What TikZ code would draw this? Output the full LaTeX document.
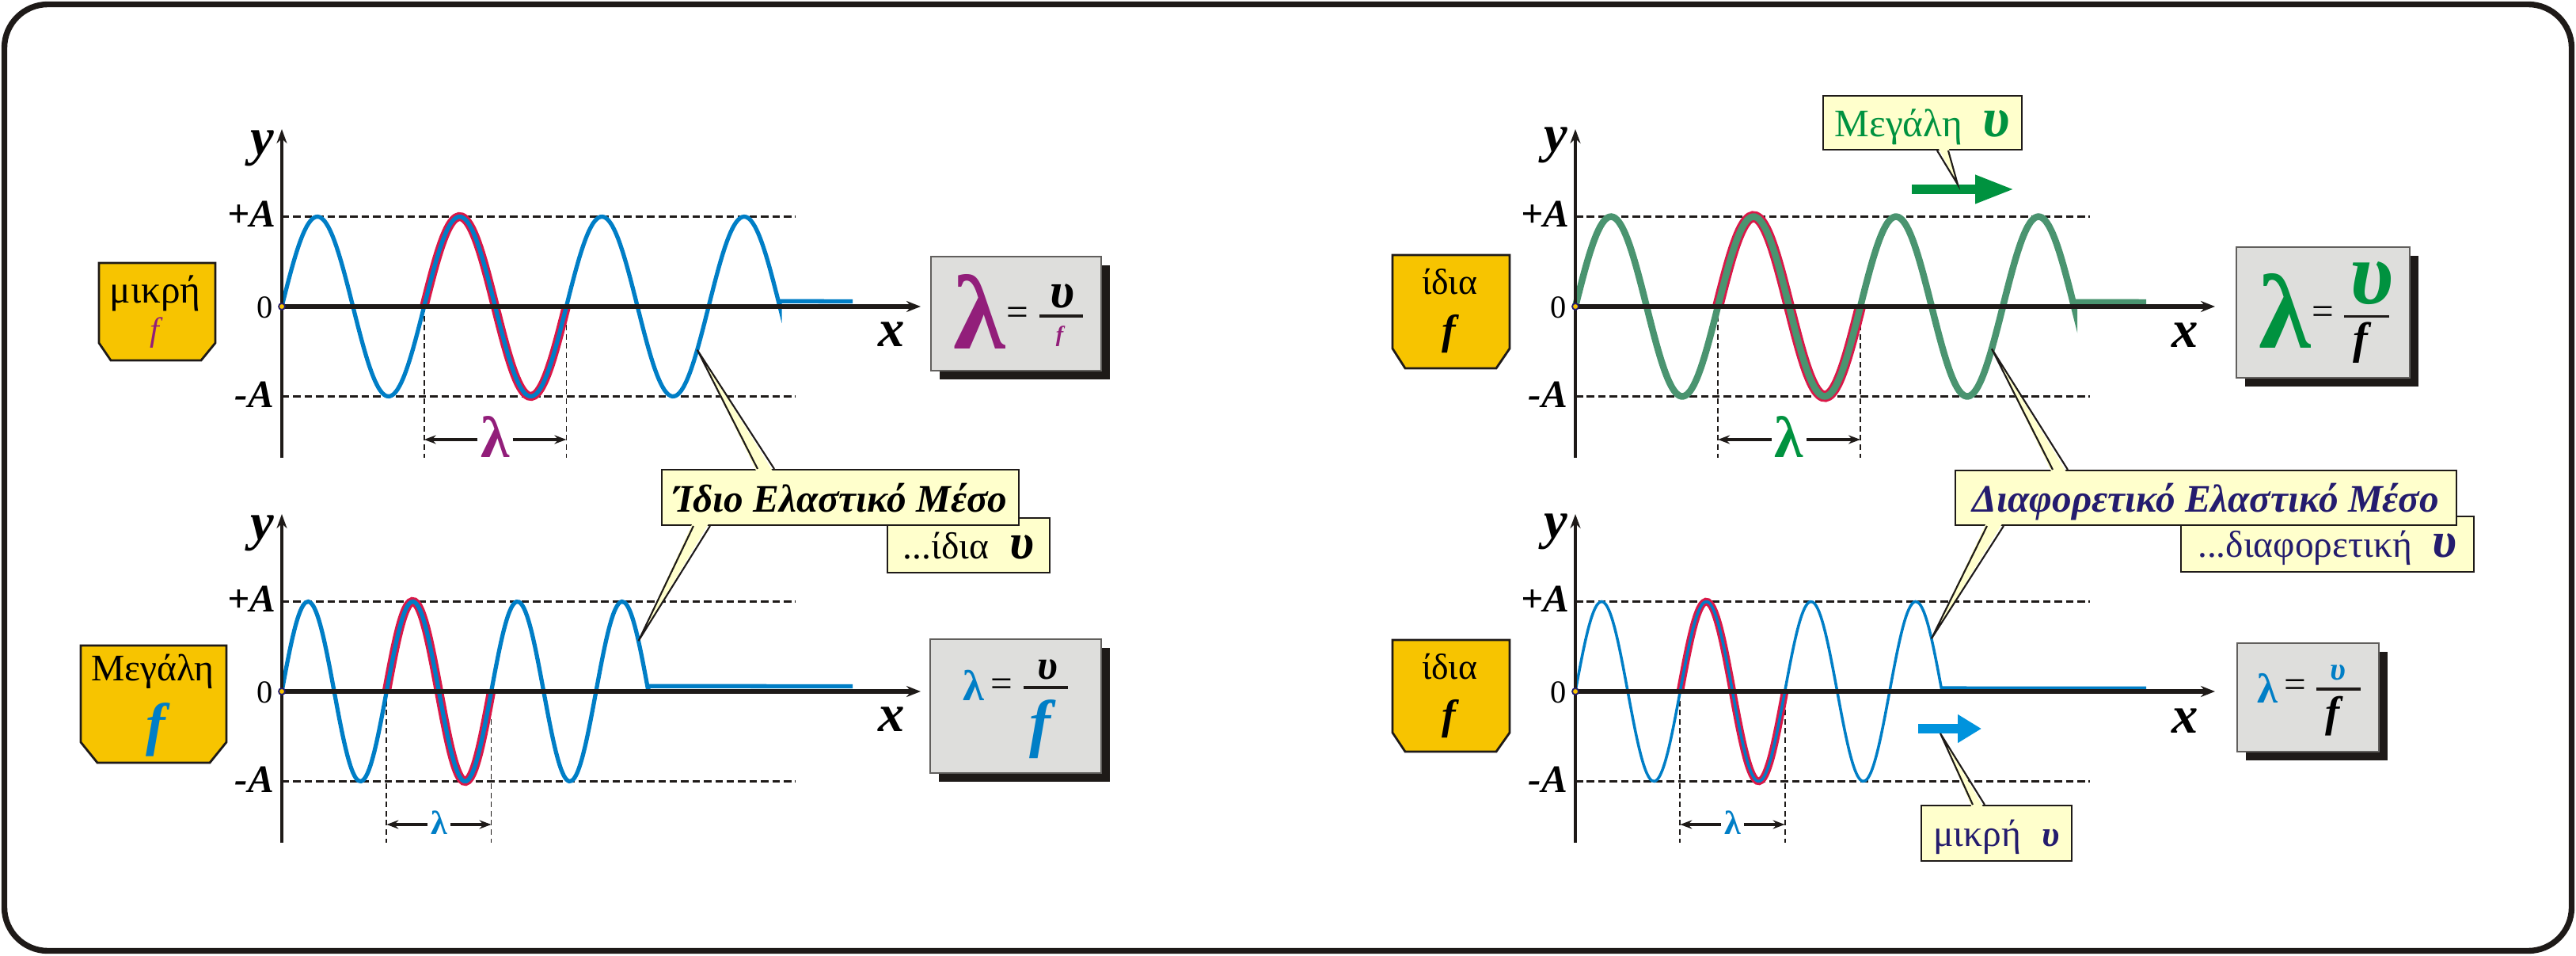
\documentclass[tikz,border=0pt]{standalone}
\usepackage{fontspec}
\setmainfont{Liberation Serif}
\usetikzlibrary{arrows.meta,shadows}

\definecolor{ink}{RGB}{30,26,24}
\definecolor{wblue}{RGB}{0,126,198}
\definecolor{wred}{RGB}{218,24,72}
\definecolor{wgreen}{RGB}{74,148,112}
\definecolor{lpurple}{RGB}{146,30,122}
\definecolor{vgreen}{RGB}{0,146,63}
\definecolor{fyellow}{RGB}{247,196,0}
\definecolor{cyellow}{RGB}{255,255,204}
\definecolor{fgray}{RGB}{222,222,220}
\definecolor{navy}{RGB}{36,28,110}
\definecolor{vblue}{RGB}{0,147,221}

\tikzset{
  frame/.style={ink, line width=2.1pt, rounded corners=0.55cm},
  axisx/.style={ink, line width=1.5pt, -{Stealth[length=0.18cm,width=0.14cm]}},
  axisy/.style={ink, line width=1.2pt, -{Stealth[length=0.18cm,width=0.13cm]}},
  ampline/.style={ink, line width=0.9pt, dash pattern=on 2.7pt off 1.4pt},
  guideline/.style={ink, line width=0.5pt, dash pattern=on 2pt off 1.3pt},
  dimarrow/.style={ink, line width=0.9pt, -{Stealth[length=0.15cm,width=0.11cm]}},
  bluewave/.style={wblue, line width=1.5pt},
  greenwave/.style={wgreen, line width=2.4pt},
  thinwave/.style={wblue, line width=1pt},
  redmark/.style={wred, line width=3.2pt},
  redwide/.style={wred, line width=4pt},
  redthin/.style={wred, line width=2.7pt},
  origindot/.style={circle, fill=fyellow, draw=navy, line width=0.5pt, inner sep=0pt, minimum size=0.08cm},
  tag/.style={inner sep=0pt, outer sep=0pt},
  axtext/.style={tag, font=\fontsize{19}{19}\selectfont\bfseries\itshape},
  amptext/.style={tag, anchor=east, font=\fontsize{14}{14}\selectfont\bfseries\itshape},
  zerotext/.style={tag, anchor=east, font=\fontsize{11.5}{11.5}\selectfont},
  freqbox/.style={fill=fyellow, draw=ink, line width=0.8pt, line join=miter},
  eqbox/.style={fill=fgray, draw=ink!70, line width=0.6pt,
    drop shadow={shadow xshift=0.11cm, shadow yshift=-0.11cm, fill=ink, opacity=1}},
  fracline/.style={ink, line width=1pt},
  calloutbox/.style={fill=cyellow, draw=ink, line width=0.6pt, inner sep=0pt, text depth=0pt},
  pointer/.style={ink, line width=0.6pt},
  flowarrow/.style={line width=0.12cm},
}

\begin{document}
\begin{tikzpicture}
\useasboundingbox (0,0) rectangle (32.54,12.06);
\draw[frame] (0.055,0.055) rectangle (32.485,12.005);

% top left: small f
\begin{scope}[shift={(3.56,8.19)}]
\draw[ampline] (0,1.135) -- (6.49,1.135);
\draw[ampline] (0,-1.135) -- (6.49,-1.135);
\draw[guideline] (1.797,0) -- (1.797,-1.91);
\draw[guideline] (3.594,0) -- (3.594,-1.91);
\draw[redmark] plot[domain=1:2,samples=50,smooth] ({1.797*\x},{1.135*sin(360*\x)});
\draw[bluewave] plot[domain=0:3.5,samples=140,smooth] ({1.797*\x},{1.135*sin(360*\x)}) -- ++(0,0.065) -- (7.21,0.065);
\draw[axisy] (0,-1.91) -- (0,2.24);
\draw[axisx] (0,0) -- (8.07,0);
\node[origindot] (o1) at (0,0) {};
\node[axtext, anchor=east] (y1) at (-0.10,2.0) {y};
\node[amptext] (pa1) at (-0.08,1.17) {+A};
\node[zerotext] (z1) at (-0.11,-0.01) {0};
\node[amptext] (ma1) at (-0.10,-1.11) {-A};
\node[axtext] (x1) at (7.70,-0.35) {x};
\coordinate (l1a) at (1.797,-1.68);
\coordinate (l1b) at (3.594,-1.68);
\node[tag, lpurple, font=\fontsize{21}{21}\selectfont\bfseries] (lam1) at (2.696,-1.65) {λ};
\draw[dimarrow] ([xshift=-0.04cm]lam1.west |- l1a) -- (l1a);
\draw[dimarrow] ([xshift=0.04cm]lam1.east |- l1b) -- (l1b);
\coordinate (tip1) at ({2.92*1.797},{1.135*sin(360*2.92)});
\end{scope}

% bottom left: large f
\begin{scope}[shift={(3.56,3.33)}]
\draw[ampline] (0,1.135) -- (6.49,1.135);
\draw[ampline] (0,-1.135) -- (6.49,-1.135);
\draw[guideline] (1.323,0) -- (1.323,-1.91);
\draw[guideline] (2.646,0) -- (2.646,-1.91);
\draw[redmark] plot[domain=1:2,samples=50,smooth] ({1.323*\x},{1.135*sin(360*\x)});
\draw[bluewave] plot[domain=0:3.5,samples=140,smooth] ({1.323*\x},{1.135*sin(360*\x)}) -- ++(0,0.065) -- (7.21,0.065);
\draw[axisy] (0,-1.91) -- (0,2.24);
\draw[axisx] (0,0) -- (8.07,0);
\node[origindot] (o2) at (0,0) {};
\node[axtext, anchor=east] (y2) at (-0.10,2.0) {y};
\node[amptext] (pa2) at (-0.08,1.17) {+A};
\node[zerotext] (z2) at (-0.11,-0.01) {0};
\node[amptext] (ma2) at (-0.10,-1.11) {-A};
\node[axtext] (x2) at (7.70,-0.35) {x};
\coordinate (l2a) at (1.323,-1.68);
\coordinate (l2b) at (2.646,-1.68);
\node[tag, wblue, font=\fontsize{12}{12}\selectfont\bfseries] (lam2) at (1.985,-1.66) {λ};
\draw[dimarrow] ([xshift=-0.04cm]lam2.west |- l2a) -- (l2a);
\draw[dimarrow] ([xshift=0.04cm]lam2.east |- l2b) -- (l2b);
\coordinate (tip2) at ({3.405*1.323},{1.135*sin(360*3.405)});
\end{scope}

% top right: same f, large v
\begin{scope}[shift={(19.90,8.19)}]
\draw[ampline] (0,1.135) -- (6.50,1.135);
\draw[ampline] (0,-1.135) -- (6.50,-1.135);
\draw[guideline] (1.80,0) -- (1.80,-1.91);
\draw[guideline] (3.60,0) -- (3.60,-1.91);
\draw[redwide] plot[domain=1:2,samples=50,smooth] ({1.80*\x},{1.135*sin(360*\x)});
\draw[greenwave] plot[domain=0:3.5,samples=140,smooth] ({1.80*\x},{1.135*sin(360*\x)}) -- ++(0,0.05) -- (7.21,0.05);
\draw[axisy] (0,-1.91) -- (0,2.24);
\draw[axisx] (0,0) -- (8.08,0);
\node[origindot] (o3) at (0,0) {};
\node[axtext, anchor=east] (y3) at (-0.10,2.04) {y};
\node[amptext] (pa3) at (-0.08,1.17) {+A};
\node[zerotext] (z3) at (-0.11,-0.01) {0};
\node[amptext] (ma3) at (-0.10,-1.11) {-A};
\node[axtext] (x3) at (7.70,-0.36) {x};
\coordinate (l3a) at (1.80,-1.68);
\coordinate (l3b) at (3.60,-1.68);
\node[tag, vgreen, font=\fontsize{21}{21}\selectfont\bfseries] (lam3) at (2.70,-1.65) {λ};
\draw[dimarrow] ([xshift=-0.04cm]lam3.west |- l3a) -- (l3a);
\draw[dimarrow] ([xshift=0.04cm]lam3.east |- l3b) -- (l3b);
\coordinate (tip3) at ({2.922*1.80},{1.135*sin(360*2.922)});
\end{scope}

% bottom right: same f, small v
\begin{scope}[shift={(19.90,3.33)}]
\draw[ampline] (0,1.135) -- (6.50,1.135);
\draw[ampline] (0,-1.135) -- (6.50,-1.135);
\draw[guideline] (1.323,0) -- (1.323,-1.91);
\draw[guideline] (2.646,0) -- (2.646,-1.91);
\draw[redthin] plot[domain=1:2,samples=50,smooth] ({1.323*\x},{1.135*sin(360*\x)});
\draw[thinwave] plot[domain=0:3.5,samples=140,smooth] ({1.323*\x},{1.135*sin(360*\x)}) -- ++(0,0.045) -- (7.21,0.045);
\draw[axisy] (0,-1.91) -- (0,2.24);
\draw[axisx] (0,0) -- (8.08,0);
\node[origindot] (o4) at (0,0) {};
\node[axtext, anchor=east] (y4) at (-0.10,2.02) {y};
\node[amptext] (pa4) at (-0.08,1.17) {+A};
\node[zerotext] (z4) at (-0.11,-0.01) {0};
\node[amptext] (ma4) at (-0.10,-1.11) {-A};
\node[axtext] (x4) at (7.70,-0.37) {x};
\coordinate (l4a) at (1.323,-1.68);
\coordinate (l4b) at (2.646,-1.68);
\node[tag, wblue, font=\fontsize{12}{12}\selectfont\bfseries] (lam4) at (1.985,-1.66) {λ};
\draw[dimarrow] ([xshift=-0.04cm]lam4.west |- l4a) -- (l4a);
\draw[dimarrow] ([xshift=0.04cm]lam4.east |- l4b) -- (l4b);
\coordinate (tip4) at ({3.40*1.323},{1.135*sin(360*3.40)});
\end{scope}

% frequency tags
\draw[freqbox] (1.25,8.74) -- (2.72,8.74) -- (2.72,7.73) -- (2.54,7.51) -- (1.40,7.51) -- (1.25,7.73) -- cycle;
\node[tag, font=\fontsize{14}{14}\selectfont] (fq1) at (1.96,8.36) {μικρή};
\node[tag, lpurple, font=\fontsize{12}{12}\selectfont\itshape] (fq1f) at (1.95,7.86) {f};
\draw[freqbox] (1.02,3.91) -- (2.86,3.91) -- (2.86,2.69) -- (2.65,2.43) -- (1.23,2.43) -- (1.02,2.69) -- cycle;
\node[tag, font=\fontsize{13.5}{13.5}\selectfont] (fq2) at (1.93,3.58) {Μεγάλη};
\node[tag, wblue, font=\fontsize{21}{21}\selectfont\bfseries\itshape] (fq2f) at (1.97,2.85) {f};
\draw[freqbox] (17.59,8.84) -- (19.07,8.84) -- (19.07,7.66) -- (18.90,7.41) -- (17.75,7.41) -- (17.59,7.66) -- cycle;
\node[tag, font=\fontsize{13}{13}\selectfont] (fq3) at (18.31,8.50) {ίδια};
\node[tag, font=\fontsize{15}{15}\selectfont\bfseries\itshape] (fq3f) at (18.30,7.84) {f};
\draw[freqbox] (17.59,3.98) -- (19.07,3.98) -- (19.07,2.81) -- (18.90,2.57) -- (17.75,2.57) -- (17.59,2.81) -- cycle;
\node[tag, font=\fontsize{13}{13}\selectfont] (fq4) at (18.31,3.64) {ίδια};
\node[tag, font=\fontsize{15}{15}\selectfont\bfseries\itshape] (fq4f) at (18.30,2.98) {f};

% formulas
\node[eqbox, minimum width=2.15cm, minimum height=1.44cm] (eq1) at (12.835,8.10) {};
\node[tag, lpurple, font=\fontsize{38}{38}\selectfont\bfseries] (eq1l) at (12.37,8.125) {λ};
\node[tag, font=\fontsize{14}{14}\selectfont] (eq1e) at (12.85,8.07) {=};
\draw[fracline] (13.13,8.07) -- (13.68,8.07);
\node[tag, font=\fontsize{18}{18}\selectfont\bfseries\itshape] (eq1v) at (13.42,8.325) {υ};
\node[tag, lpurple, font=\fontsize{8}{8}\selectfont\bfseries\itshape] (eq1f) at (13.385,7.815) {f};

\node[eqbox, minimum width=2.16cm, minimum height=1.69cm] (eq2) at (12.83,3.145) {};
\node[tag, wblue, font=\fontsize{15.5}{15.5}\selectfont\bfseries] (eq2l) at (12.30,3.41) {λ};
\node[tag, font=\fontsize{14}{14}\selectfont] (eq2e) at (12.65,3.38) {=};
\draw[fracline] (12.93,3.38) -- (13.49,3.38);
\node[tag, font=\fontsize{15}{15}\selectfont\bfseries\itshape] (eq2v) at (13.235,3.61) {υ};
\node[tag, wblue, font=\fontsize{23}{23}\selectfont\bfseries\itshape] (eq2f) at (13.14,2.855) {f};

\node[eqbox, minimum width=2.19cm, minimum height=1.65cm] (eq3) at (29.345,8.115) {};
\node[tag, vgreen, font=\fontsize{38}{38}\selectfont\bfseries] (eq3l) at (28.86,8.135) {λ};
\node[tag, font=\fontsize{14}{14}\selectfont] (eq3e) at (29.34,8.08) {=};
\draw[fracline] (29.61,8.065) -- (30.18,8.065);
\node[tag, vgreen, font=\fontsize{32}{32}\selectfont\bfseries\itshape] (eq3v) at (29.96,8.48) {υ};
\node[tag, font=\fontsize{16}{16}\selectfont\bfseries\itshape] (eq3f) at (29.815,7.735) {f};

\node[eqbox, minimum width=1.79cm, minimum height=1.37cm] (eq4) at (29.155,3.255) {};
\node[tag, wblue, font=\fontsize{15}{15}\selectfont\bfseries] (eq4l) at (28.64,3.37) {λ};
\node[tag, font=\fontsize{14}{14}\selectfont] (eq4e) at (28.995,3.37) {=};
\draw[fracline] (29.26,3.36) -- (29.82,3.36);
\node[tag, wblue, font=\fontsize{11.5}{11.5}\selectfont\bfseries\itshape] (eq4v) at (29.535,3.565) {υ};
\node[tag, font=\fontsize{15.5}{15.5}\selectfont\bfseries\itshape] (eq4f) at (29.47,3.015) {f};

% speed arrows
\coordinate (ga) at (24.15,9.67);
\coordinate (gb) at (25.45,9.67);
\draw[flowarrow, vgreen, -{Triangle[length=0.5cm,width=0.33cm]}] (ga) -- (gb);
\coordinate (gtop) at (24.73,9.73);
\coordinate (ba) at (24.23,2.86);
\coordinate (bb) at (25.03,2.86);
\draw[flowarrow, vblue, -{Triangle[length=0.3cm,width=0.34cm]}] (ba) -- (bb);
\coordinate (bbot) at (24.51,2.80);

% callouts
\node[calloutbox, minimum width=2.05cm, minimum height=0.69cm] (same2) at (12.235,5.175)
  {\fontsize{13.5}{13.5}\selectfont ...ίδια\hspace{0.26cm}{\fontsize{18}{18}\selectfont\bfseries\itshape υ}};
\node[calloutbox, minimum width=4.51cm, minimum height=0.70cm] (same1) at (10.615,5.78)
  {\fontsize{14}{14}\selectfont\bfseries\itshape Ίδιο Ελαστικό Μέσο};
\fill[cyellow] ([xshift=1.22cm,yshift=-0.06cm]same1.north west) -- (tip1) -- ([xshift=1.43cm,yshift=-0.06cm]same1.north west) -- cycle;
\draw[pointer] ([xshift=1.22cm]same1.north west) -- (tip1) -- ([xshift=1.43cm]same1.north west);
\fill[cyellow] ([xshift=0.41cm,yshift=0.06cm]same1.south west) -- (tip2) -- ([xshift=0.62cm,yshift=0.06cm]same1.south west) -- cycle;
\draw[pointer] ([xshift=0.41cm]same1.south west) -- (tip2) -- ([xshift=0.62cm]same1.south west);

\node[calloutbox, text=navy, minimum width=3.70cm, minimum height=0.70cm] (diff2) at (29.40,5.19)
  {\fontsize{13.5}{13.5}\selectfont ...διαφορετική\hspace{0.26cm}{\fontsize{18}{18}\selectfont\bfseries\itshape υ}};
\node[calloutbox, text=navy, minimum width=6.33cm, minimum height=0.69cm] (diff1) at (27.865,5.775)
  {\fontsize{14}{14}\selectfont\bfseries\itshape Διαφορετικό Ελαστικό Μέσο};
\fill[cyellow] ([xshift=1.24cm,yshift=-0.06cm]diff1.north west) -- (tip3) -- ([xshift=1.43cm,yshift=-0.06cm]diff1.north west) -- cycle;
\draw[pointer] ([xshift=1.24cm]diff1.north west) -- (tip3) -- ([xshift=1.43cm]diff1.north west);
\fill[cyellow] ([xshift=0.41cm,yshift=0.06cm]diff1.south west) -- (tip4) -- ([xshift=0.62cm,yshift=0.06cm]diff1.south west) -- cycle;
\draw[pointer] ([xshift=0.41cm]diff1.south west) -- (tip4) -- ([xshift=0.62cm]diff1.south west);

\node[calloutbox, text=vgreen, minimum width=2.51cm, minimum height=0.68cm] (fast) at (24.285,10.51)
  {\fontsize{14}{14}\selectfont Μεγάλη\hspace{0.26cm}{\fontsize{20}{20}\selectfont\bfseries\itshape υ}};
\fill[cyellow] ([xshift=1.45cm,yshift=0.06cm]fast.south west) -- (gtop) -- ([xshift=1.59cm,yshift=0.06cm]fast.south west) -- cycle;
\draw[pointer] ([xshift=1.45cm]fast.south west) -- (gtop) -- ([xshift=1.59cm]fast.south west);

\node[calloutbox, text=navy, minimum width=1.90cm, minimum height=0.70cm] (slow) at (25.22,1.54)
  {\fontsize{13.5}{13.5}\selectfont μικρή\hspace{0.26cm}{\fontsize{13}{13}\selectfont\bfseries\itshape υ}};
\fill[cyellow] ([xshift=0.66cm,yshift=-0.06cm]slow.north west) -- (bbot) -- ([xshift=0.81cm,yshift=-0.06cm]slow.north west) -- cycle;
\draw[pointer] ([xshift=0.66cm]slow.north west) -- (bbot) -- ([xshift=0.81cm]slow.north west);
\end{tikzpicture}
\end{document}
